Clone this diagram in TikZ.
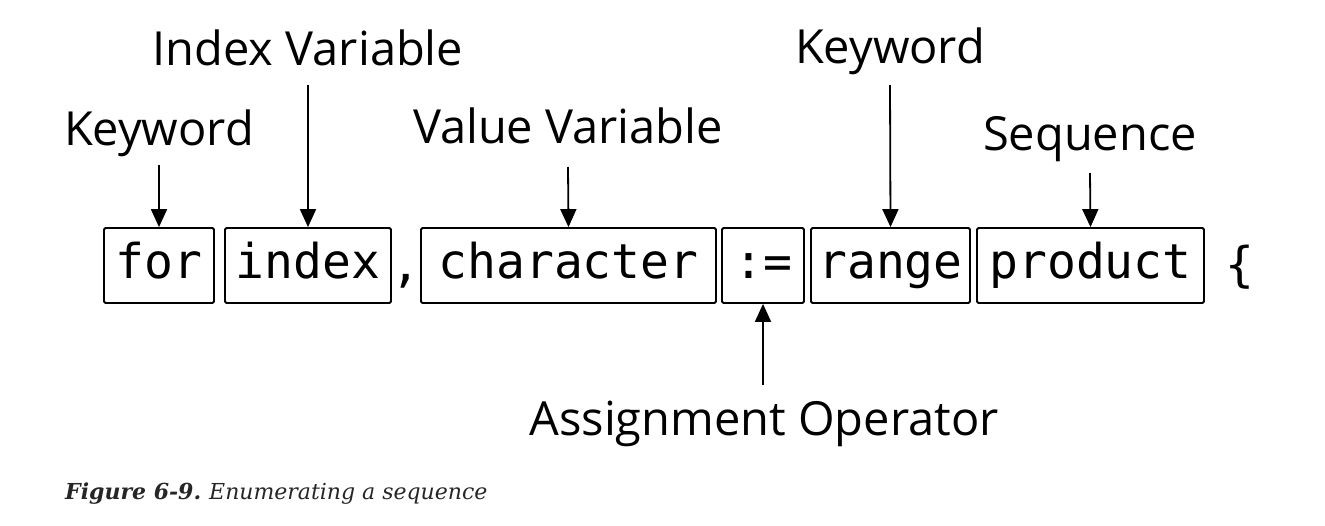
\documentclass[tikz,border=0pt]{standalone}
\usepackage{fontspec}
\setmainfont{DejaVu Serif}
\setsansfont{Open Sans}
\setmonofont{DejaVu Sans Mono}
\usetikzlibrary{arrows.meta}
\tikzset{
  x=1pt, y=-1pt,
  lbl/.style={font=\sffamily\fontsize{47}{52}\selectfont, anchor=base, inner sep=0pt},
  codebox/.style={draw, line width=1.8pt, rounded corners=1.5pt, minimum height=75pt, inner sep=0pt, font=\ttfamily\fontsize{48}{52}\selectfont, text height=36pt, text depth=10pt},
  codetxt/.style={font=\ttfamily\fontsize{48}{52}\selectfont, anchor=base, inner sep=0pt},
  arr/.style={line width=1.8pt, -{Triangle[width=16pt,length=18pt]}},
}
\begin{document}
\begin{tikzpicture}
\useasboundingbox (0,0) rectangle (1325,525);
% code boxes
\node[codebox, minimum width=110pt] (for) at (159,265.5) {for};
\node[codebox, minimum width=166pt] (index) at (308,265.5) {index};
\node[codetxt] (comma) at (406,281) {,};
\node[codebox, minimum width=295pt] (char) at (568.5,265.5) {character};
\node[codebox, minimum width=82pt] (assign) at (763,265.5) {:=};
\node[codebox, minimum width=159pt] (range) at (890.5,265.5) {range};
\node[codebox, minimum width=227pt] (prod) at (1090.5,265.5) {product};
\node[codetxt] (brace) at (1240,281) {\{};
% labels
\node[lbl] (kw1) at (159,145) {Keyword};
\node[lbl] (iv) at (308,65) {Index Variable};
\node[lbl] (vv) at (568,143) {Value Variable};
\node[lbl] (kw2) at (890,63) {Keyword};
\node[lbl] (seq) at (1090,150) {Sequence};
\node[lbl] (ao) at (764,435) {Assignment Operator};
% arrow starts
\coordinate (s1) at (159,165);
\coordinate (s2) at (308,85);
\coordinate (s3) at (568,167);
\coordinate (s4) at (890,85);
\coordinate (s5) at (1090,173);
\coordinate (s6) at (763,385);
\draw[arr] (s1) -- (for.north);
\draw[arr] (s2) -- (index.north);
\draw[arr] (s3) -- (char.north);
\draw[arr] (s4) -- (range.north);
\draw[arr] (s5) -- (prod.north);
\draw[arr] (s6) -- (assign.south);
% caption
\node[anchor=base west, inner sep=0pt, font=\fontsize{22}{26}\selectfont, text=black!85] (cap) at (65,499) {\textbf{\textit{Figure 6-9.}}\hspace{8pt}\textit{Enumerating a sequence}};
\end{tikzpicture}
\end{document}
